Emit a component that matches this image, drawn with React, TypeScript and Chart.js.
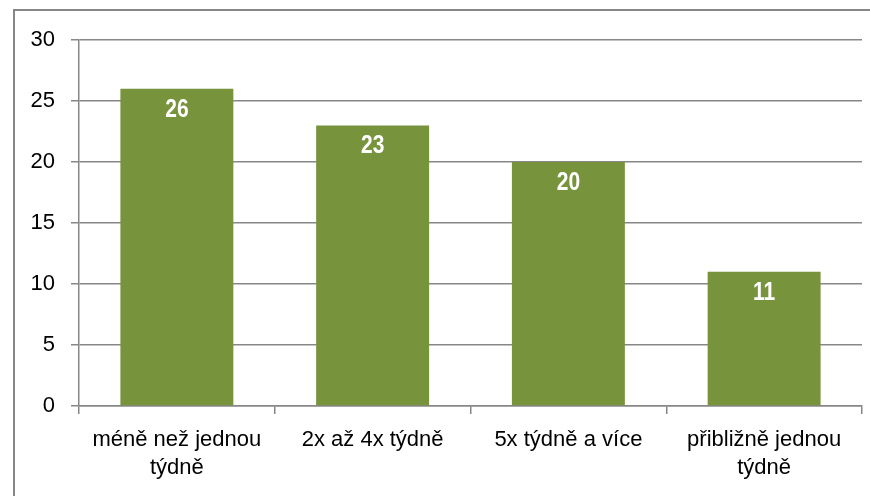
import React, { useEffect, useRef } from "react";
import { Chart, registerables } from "chart.js";

Chart.register(...registerables);

const categories: string[][] = [
  ["méně než jednou", "týdně"],
  ["2x až 4x týdně"],
  ["5x týdně a více"],
  ["přibližně jednou", "týdně"],
];
const values: number[] = [26, 23, 20, 11];
const yTicks: number[] = [0, 5, 10, 15, 20, 25, 30];

const BAR_COLOR = "#77933C";
const GRID_COLOR = "#878787";
const FONT = "'Liberation Sans', Arial, sans-serif";

const valueLabels = {
  id: "valueLabels",
  afterDatasetsDraw(chart: any) {
    const ctx = chart.ctx;
    const meta = chart.getDatasetMeta(0);
    ctx.save();
    ctx.fillStyle = "#ffffff";
    ctx.font = `bold 21px ${FONT}`;
    ctx.textAlign = "center";
    ctx.textBaseline = "middle";
    meta.data.forEach((bar: any, i: number) => {
      ctx.save();
      ctx.translate(bar.x, bar.y + 21);
      ctx.scale(1, 1.2);
      ctx.fillText(String(values[i]), 0, 0);
      ctx.restore();
    });
    ctx.restore();
  },
};

export default function App() {
  const ref = useRef<HTMLCanvasElement | null>(null);
  useEffect(() => {
    if (!ref.current) return;
    const chart = new Chart(ref.current, {
      type: "bar",
      data: {
        labels: categories,
        datasets: [
          {
            data: values,
            backgroundColor: BAR_COLOR,
            borderWidth: 0,
            barPercentage: 0.577,
            categoryPercentage: 1,
          },
        ],
      },
      options: {
        animation: false,
        responsive: false,
        maintainAspectRatio: false,
        layout: { padding: { left: 0, top: 40, right: 8, bottom: 0 } },
        plugins: { legend: { display: false }, tooltip: { enabled: false } },
        scales: {
          x: {
            offset: true,
            grid: {
              offset: true,
              drawOnChartArea: false,
              drawTicks: true,
              tickLength: 8,
              color: GRID_COLOR,
              lineWidth: 1.5,
            },
            border: { color: GRID_COLOR, width: 1.5 },
            ticks: {
              color: "#000000",
              font: { family: FONT, size: 22, lineHeight: 1.28 },
              padding: 12,
              maxRotation: 0,
              autoSkip: false,
            },
            afterFit: (s: any) => {
              s.height = 90;
            },
          },
          y: {
            min: 0,
            max: 30,
            afterBuildTicks: (s: any) => {
              s.ticks = yTicks.map((v) => ({ value: v }));
            },
            grid: {
              color: GRID_COLOR,
              lineWidth: 1.5,
              tickLength: 8,
              drawTicks: true,
            },
            border: { color: GRID_COLOR, width: 1.5 },
            ticks: {
              color: "#000000",
              font: { family: FONT, size: 22 },
              padding: 16,
            },
            afterFit: (s: any) => {
              s.width = 79;
            },
          },
        },
      },
      plugins: [valueLabels],
    });
    return () => chart.destroy();
  }, []);

  return (
    <div
      style={{
        position: "fixed",
        left: 0,
        top: 0,
        width: 870,
        height: 496,
        background: "#ffffff",
        overflow: "hidden",
      }}
    >
      <div
        style={{
          position: "absolute",
          left: 13,
          top: 9,
          width: 870,
          height: 500,
          borderLeft: `2px solid ${GRID_COLOR}`,
          borderTop: `2px solid ${GRID_COLOR}`,
        }}
      />
      <canvas
        ref={ref}
        width={870}
        height={496}
        style={{ position: "absolute", left: 0, top: 0, width: 870, height: 496 }}
      />
    </div>
  );
}
